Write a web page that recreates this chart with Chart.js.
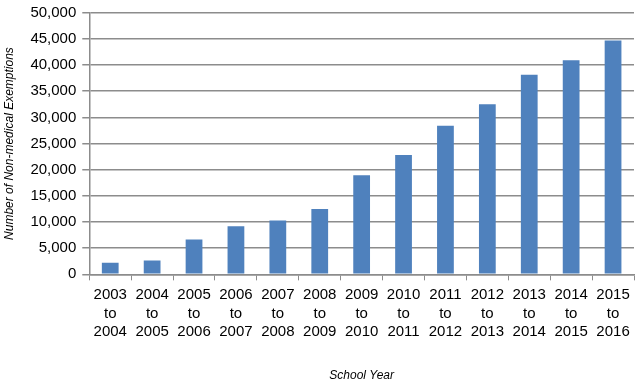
<!DOCTYPE html>
<html>
<head>
<meta charset="utf-8">
<script src="https://cdn.jsdelivr.net/npm/chart.js@4"></script>
<style>
  html, body { margin: 0; padding: 0; background: #fff; }
  #wrap { width: 640px; height: 384px; }
</style>
</head>
<body>
<div id="wrap"><canvas id="chart" width="640" height="384"></canvas></div>
<script>
// School years, split in three lines like the original axis
const startYears = ['2003', '2004', '2005', '2006', '2007', '2008', '2009', '2010', '2011', '2012', '2013', '2014', '2015'];
const endYears = ['2004', '2005', '2006', '2007', '2008', '2009', '2010', '2011', '2012', '2013', '2014', '2015', '2016'];
const exemptions = [2220, 2660, 6650, 9180, 10270, 12490, 18950, 22810, 28390, 32510, 38150, 40940, 44680];
const yTicks = [0, 5000, 10000, 15000, 20000, 25000, 30000, 35000, 40000, 45000, 50000];

const labels = startYears.map((s, i) => [s, 'to', endYears[i]]);
const font = 'Liberation Sans';
const gridColor = '#8c8c8c';

new Chart(document.getElementById('chart'), {
    type: 'bar',
    data: {
        labels: labels,
        datasets: [{
            label: 'Non-medical exemptions',
            data: exemptions,
            backgroundColor: '#4f81bd',
            borderWidth: 0,
            barPercentage: 0.4,
            categoryPercentage: 1
        }]
    },
    options: {
        responsive: false,
        animation: false,
        layout: { padding: { top: 0, right: 6, bottom: 0, left: 2 } },
        plugins: {
            legend: { display: false },
            tooltip: { enabled: false }
        },
        scales: {
            x: {
                offset: true,
                grid: {
                    offset: true,
                    drawOnChartArea: false,
                    color: gridColor,
                    tickLength: 6
                },
                border: { color: gridColor, width: 1.5 },
                ticks: {
                    color: '#000',
                    font: { family: font, size: 15, lineHeight: 1.25 },
                    maxRotation: 0,
                    padding: 5
                },
                title: {
                    display: true,
                    text: 'School Year',
                    color: '#000',
                    font: { family: font, size: 12, style: 'italic' },
                    padding: { top: 22, bottom: 1 }
                }
            },
            y: {
                min: 0,
                max: 50000,
                afterBuildTicks: axis => { axis.ticks = yTicks.map(v => ({ value: v })); },
                grid: {
                    color: gridColor,
                    lineWidth: 1.5,
                    tickLength: 7
                },
                border: { color: gridColor, width: 1.5 },
                ticks: {
                    color: '#000',
                    font: { family: font, size: 15, lineHeight: 0.9 },
                    padding: 6,
                    callback: v => v.toLocaleString('en-US')
                },
                title: {
                    display: true,
                    text: 'Number of Non-medical Exemptions',
                    color: '#000',
                    font: { family: font, size: 12, style: 'italic' },
                    padding: { top: 0, bottom: 8 }
                }
            }
        }
    }
});
</script>
</body>
</html>
